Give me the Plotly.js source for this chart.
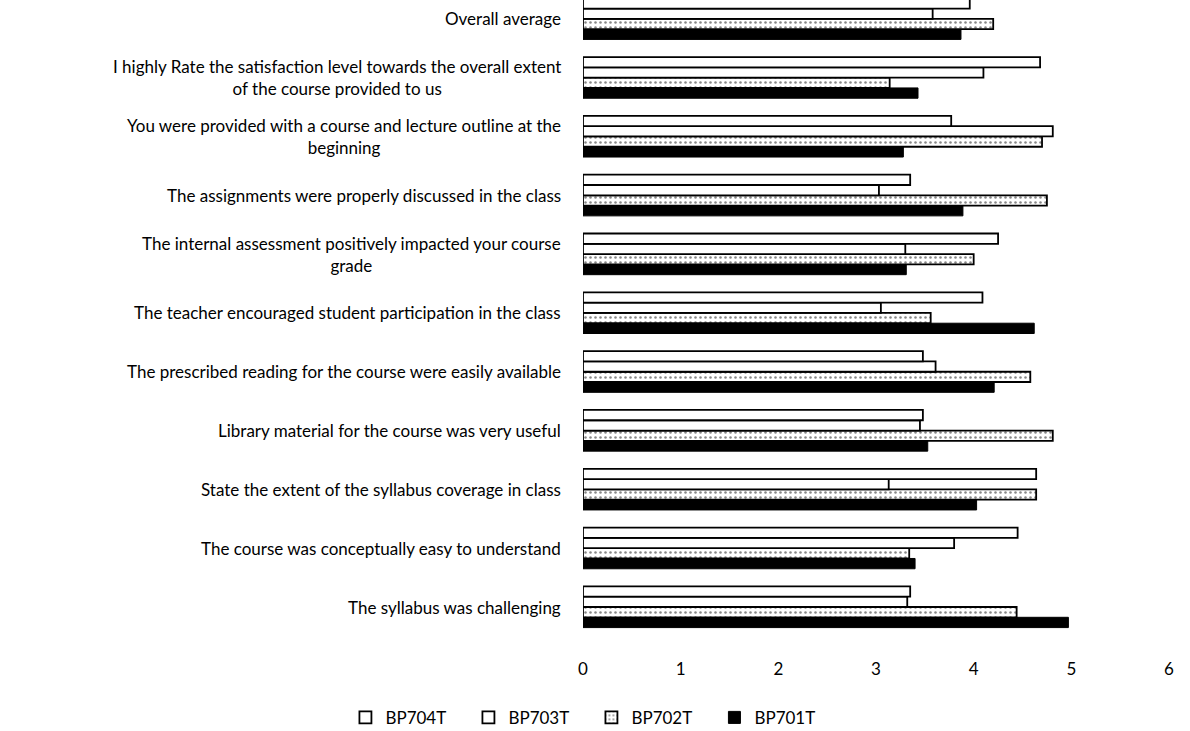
<!DOCTYPE html>
<html>
<head>
<meta charset="utf-8">
<script src="https://cdn.plot.ly/plotly-3.0.1.min.js"></script>
<style>html,body{margin:0;padding:0;background:#fff;}#chart{width:1190px;height:731px;}</style>
</head>
<body>
<div id="chart"></div>
<script>
// Categories, listed bottom to top
const categories = [
  "The syllabus was challenging",
  "The course was conceptually easy to understand",
  "State the extent of the syllabus coverage in class",
  "Library material for the course was very useful",
  "The prescribed reading for the course were easily available",
  "The teacher encouraged student participation in the class",
  "The internal assessment positively impacted your course<br>grade",
  "The assignments were properly discussed in the class",
  "You were provided with a course and lecture outline at the<br>beginning",
  "I highly Rate the satisfaction level towards the overall extent<br>of the course provided to us",
  "Overall average"
];
const BP701T = [4.97, 3.40, 4.03, 3.53, 4.21, 4.62, 3.31, 3.89, 3.28, 3.43, 3.87];
const BP702T = [4.44, 3.34, 4.64, 4.81, 4.58, 3.56, 4.00, 4.75, 4.70, 3.14, 4.20];
const BP703T = [3.32, 3.80, 3.13, 3.45, 3.61, 3.05, 3.30, 3.03, 4.81, 4.10, 3.58];
const BP704T = [3.35, 4.45, 4.64, 3.48, 3.48, 4.09, 4.25, 3.35, 3.77, 4.68, 3.96];
const seriesNames = ["BP701T", "BP702T", "BP703T", "BP704T"];
const xTicks = [0, 1, 2, 3, 4, 5, 6];

const FONT = "Lato, Calibri, 'Noto Sans', sans-serif";
const idx = categories.map((c, i) => i);

const traces = [
  {name: seriesNames[0], x: BP701T, y: idx, type: "bar", orientation: "h",
   marker: {color: "#000", line: {color: "#000", width: 1}}},
  {name: seriesNames[1], x: BP702T, y: idx, type: "bar", orientation: "h",
   marker: {color: "#fff", line: {color: "#000", width: 1.8},
            pattern: {shape: ".", fgcolor: "#888", bgcolor: "#fff", size: 5, solidity: 0.2}}},
  {name: seriesNames[2], x: BP703T, y: idx, type: "bar", orientation: "h",
   marker: {color: "#fff", line: {color: "#000", width: 1.8}}},
  {name: seriesNames[3], x: BP704T, y: idx, type: "bar", orientation: "h",
   marker: {color: "#fff", line: {color: "#000", width: 1.8}}}
];

const annotations = categories.map((c, i) => ({
  text: c, xref: "paper", yref: "y", x: 0, y: i, xanchor: "right", yanchor: "middle",
  xshift: -20, align: "center", showarrow: false,
  font: {family: FONT, size: 17, color: "#000"}
}));

const layout = {
  width: 1190, height: 731,
  margin: {l: 583, r: 21, t: 0, b: 94, autoexpand: false},
  paper_bgcolor: "#fff", plot_bgcolor: "#fff",
  barmode: "group", bargap: 0.3, bargroupgap: 0,
  showlegend: true,
  legend: {orientation: "h", x: 0.497, xanchor: "center", y: 0.018, yanchor: "middle",
           xref: "container", yref: "container", traceorder: "reversed",
           entrywidth: 78, itemwidth: 30,
           font: {family: FONT, size: 17, color: "#000"}},
  xaxis: {range: [0, 6], tickvals: xTicks, ticktext: xTicks.map(String),
          showgrid: false, zeroline: false, showline: false,
          ticks: "outside", ticklen: 17, tickcolor: "rgba(0,0,0,0)",
          tickfont: {family: FONT, size: 17, color: "#000"}},
  yaxis: {type: "linear", range: [-0.51, 10.32], showticklabels: false,
          showgrid: false, zeroline: false, showline: false, ticks: ""},
  annotations: annotations
};

Plotly.newPlot("chart", traces, layout, {displayModeBar: false, staticPlot: true});
</script>
</body>
</html>
